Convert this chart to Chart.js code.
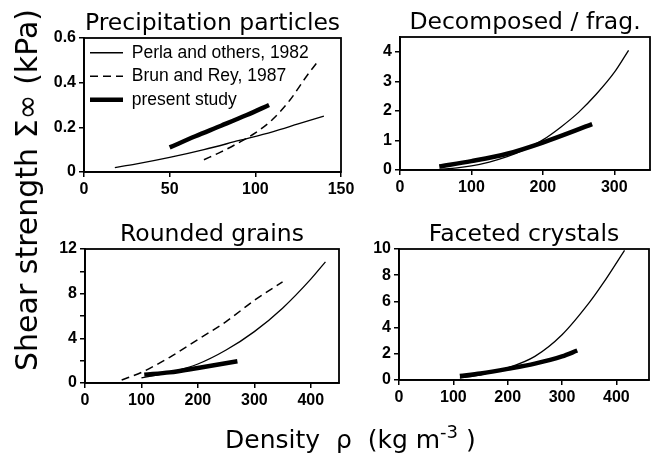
<!DOCTYPE html>
<html>
<head>
<meta charset="utf-8">
<title>Shear strength vs density</title>
<script src="https://cdn.jsdelivr.net/npm/chart.js@4.4.0/dist/chart.umd.min.js"></script>
<style>
  body { margin: 0; background: #fff; }
  #wrap { position: relative; width: 654px; height: 459px; overflow: hidden; background: #fff; }
  #wrap canvas { position: absolute; left: 0; top: 0; }
  .axis-title { position: absolute; font-family: "DejaVu Sans", sans-serif; color: #000; white-space: pre; line-height: 1; }
  #ytitle { font-size: 30px; left: 26.5px; top: 190px; transform: translate(-50%, -50%) rotate(-90deg); }
  #xtitle { font-size: 25px; left: 225px; top: 427px; }
  #xtitle sup { font-size: 18px; position: relative; top: -10px; vertical-align: baseline; }
</style>
</head>
<body>
<div id="wrap">
  <canvas id="c1" width="654" height="459"></canvas>
  <canvas id="c2" width="654" height="459"></canvas>
  <canvas id="c3" width="654" height="459"></canvas>
  <canvas id="c4" width="654" height="459"></canvas>
  <div id="ytitle" class="axis-title">Shear strength Σ∞ (kPa)</div>
  <div id="xtitle" class="axis-title">Density  ρ  (kg m<sup>-3</sup> )</div>
</div>
<script>
// panel titles and series names
const panelTitles = ['Precipitation particles', 'Decomposed / frag.', 'Rounded grains', 'Faceted crystals'];
const seriesNames = ['Perla and others, 1982', 'Brun and Rey, 1987', 'present study'];

// precipitation particles (density kg m-3, strength kPa)
const ppPerlaX = [18, 30, 50, 70, 90, 110, 125, 140];
const ppPerlaY = [0.02, 0.035, 0.065, 0.1, 0.14, 0.18, 0.215, 0.25];
const ppBrunX = [70, 80, 90, 100, 110, 120, 130, 136];
const ppBrunY = [0.055, 0.09, 0.13, 0.175, 0.235, 0.32, 0.43, 0.49];
const ppStudyX = [50, 65, 80, 95, 108];
const ppStudyY = [0.11, 0.16, 0.207, 0.255, 0.30];
const ppXTicks = [0, 50, 100, 150];
const ppYTicks = [0, 0.2, 0.4, 0.6];

// decomposed / fragmented
const dfPerlaX = [55, 80, 100, 125, 150, 175, 200, 225, 250, 275, 300, 320];
const dfPerlaY = [0.02, 0.07, 0.14, 0.27, 0.45, 0.7, 1.02, 1.45, 1.95, 2.57, 3.3, 4.05];
const dfStudyX = [55, 100, 150, 200, 269];
const dfStudyY = [0.12, 0.3, 0.55, 0.93, 1.55];
const dfXTicks = [0, 100, 200, 300];
const dfYTicks = [0, 1, 2, 3, 4];

// rounded grains
const rgPerlaX = [100, 150, 200, 250, 300, 350, 400, 426];
const rgPerlaY = [0.45, 0.95, 1.7, 2.95, 4.6, 6.7, 9.3, 10.85];
const rgBrunX = [65, 100, 150, 200, 250, 300, 350];
const rgBrunY = [0.27, 0.95, 2.3, 3.9, 5.5, 7.4, 9.05];
const rgStudyX = [105, 150, 200, 270];
const rgStudyY = [0.75, 0.95, 1.35, 1.95];
const rgXTicks = [0, 100, 200, 300, 400];
const rgYTicks = [0, 2, 4, 6, 8, 10, 12];
const rgYLabelled = [0, 4, 8, 12];

// faceted crystals
const fcPerlaX = [112, 150, 200, 250, 300, 350, 375, 415];
const fcPerlaY = [0.15, 0.4, 0.92, 1.8, 3.45, 5.9, 7.35, 9.9];
const fcStudyX = [112, 150, 200, 250, 300, 328];
const fcStudyY = [0.3, 0.5, 0.85, 1.25, 1.8, 2.25];
const fcXTicks = [0, 100, 200, 300, 400];
const fcYTicks = [0, 2, 4, 6, 8, 10];

const Y_AXIS_W = 50;
const X_AXIS_H = 30;
const FRAME_W = 1.8;
const tickFont = { family: '"Liberation Sans", Arial, sans-serif', size: 16, weight: 'bold' };

const toPoints = (xs, ys) => xs.map((x, i) => ({ x, y: ys[i] }));

const lineStyles = {
    perla: { borderWidth: 1.3, borderDash: [] },
    brun: { borderWidth: 1.5, borderDash: [8, 5] },
    study: { borderWidth: 4.5, borderDash: [] }
};

function series(name, style, xs, ys) {
    return Object.assign({
        label: name,
        data: toPoints(xs, ys),
        showLine: true,
        borderColor: '#000',
        backgroundColor: '#000',
        pointRadius: 0,
        cubicInterpolationMode: 'monotone'
    }, lineStyles[style]);
}

// frame round the plot area and the panel title above it
const frameAndTitle = {
    id: 'frameAndTitle',
    afterLayout(chart) {
        // the vertical chartArea legend is laid out from the canvas top, move it into the plot
        const lg = chart.legend;
        if (lg && lg.options.display && lg.options.position === 'chartArea') {
            const h = lg.bottom - lg.top;
            lg.top = chart.chartArea.top;
            lg.bottom = lg.top + h;
        }
    },
    afterDraw(chart, args, opts) {
        const { ctx, chartArea: a } = chart;
        ctx.save();
        ctx.strokeStyle = '#000';
        ctx.lineWidth = FRAME_W;
        ctx.strokeRect(a.left, a.top, a.right - a.left, a.bottom - a.top);
        ctx.fillStyle = '#000';
        ctx.font = '23.5px "DejaVu Sans", sans-serif';
        ctx.textAlign = 'center';
        ctx.textBaseline = 'alphabetic';
        ctx.fillText(opts.text, (a.left + a.right) / 2, a.top - 8);
        ctx.restore();
    }
};

function axis(min, max, ticks, labelled, side) {
    return {
        type: 'linear',
        min: min,
        max: max,
        afterBuildTicks: (s) => { s.ticks = ticks.map(v => ({ value: v })); },
        afterFit: (s) => {
            if (side === 'x') s.height = X_AXIS_H;
            else s.width = Y_AXIS_W;
        },
        ticks: {
            autoSkip: false,
            maxRotation: 0,
            color: '#000',
            font: tickFont,
            padding: 3,
            callback: (v) => (labelled && labelled.indexOf(v) < 0) ? '' : String(v)
        },
        grid: { drawOnChartArea: false, drawTicks: true, tickLength: 5, color: '#000', lineWidth: 1.5 },
        border: { display: true, color: '#000', width: FRAME_W }
    };
}

// legend samples take the dash pattern of their dataset's line
function legendLabels(chart) {
    const items = Chart.defaults.plugins.legend.labels.generateLabels(chart);
    items.forEach(item => {
        const ds = chart.data.datasets[item.datasetIndex];
        item.lineDash = ds.borderDash;
        item.lineWidth = ds.borderWidth;
    });
    return items;
}

function panelChart(canvasId, box, title, datasets, xAxis, yAxis, withLegend) {
    return new Chart(document.getElementById(canvasId), {
        type: 'scatter',
        data: { datasets: datasets },
        options: {
            responsive: false,
            animation: false,
            events: [],
            layout: {
                padding: {
                    left: box.left - Y_AXIS_W,
                    top: box.top,
                    right: 654 - box.right,
                    bottom: 459 - box.bottom - X_AXIS_H
                }
            },
            scales: { x: xAxis, y: yAxis },
            plugins: {
                frameAndTitle: { text: title },
                tooltip: { enabled: false },
                legend: {
                    display: withLegend,
                    position: 'chartArea',
                    align: 'start',
                    labels: {
                        usePointStyle: true,
                        pointStyle: 'line',
                        pointStyleWidth: 33,
                        padding: 6,
                        color: '#000',
                        font: { family: '"Liberation Sans", Arial, sans-serif', size: 17.5 },
                        generateLabels: legendLabels
                    }
                }
            }
        },
        plugins: [frameAndTitle]
    });
}

panelChart('c1', { left: 84, top: 38, right: 341, bottom: 172 }, panelTitles[0], [
    series(seriesNames[0], 'perla', ppPerlaX, ppPerlaY),
    series(seriesNames[1], 'brun', ppBrunX, ppBrunY),
    series(seriesNames[2], 'study', ppStudyX, ppStudyY)
], axis(0, 150, ppXTicks, null, 'x'), axis(0, 0.6, ppYTicks, null, 'y'), true);

panelChart('c2', { left: 400, top: 37, right: 650, bottom: 170 }, panelTitles[1], [
    series(seriesNames[0], 'perla', dfPerlaX, dfPerlaY),
    series(seriesNames[2], 'study', dfStudyX, dfStudyY)
], axis(0, 350, dfXTicks, null, 'x'), axis(0, 4.5, dfYTicks, null, 'y'), false);

panelChart('c3', { left: 85, top: 249, right: 339, bottom: 383 }, panelTitles[2], [
    series(seriesNames[0], 'perla', rgPerlaX, rgPerlaY),
    series(seriesNames[1], 'brun', rgBrunX, rgBrunY),
    series(seriesNames[2], 'study', rgStudyX, rgStudyY)
], axis(0, 450, rgXTicks, null, 'x'), axis(0, 12, rgYTicks, rgYLabelled, 'y'), false);

panelChart('c4', { left: 399, top: 249, right: 649, bottom: 380 }, panelTitles[3], [
    series(seriesNames[0], 'perla', fcPerlaX, fcPerlaY),
    series(seriesNames[2], 'study', fcStudyX, fcStudyY)
], axis(0, 460, fcXTicks, null, 'x'), axis(0, 10, fcYTicks, null, 'y'), false);
</script>
</body>
</html>
